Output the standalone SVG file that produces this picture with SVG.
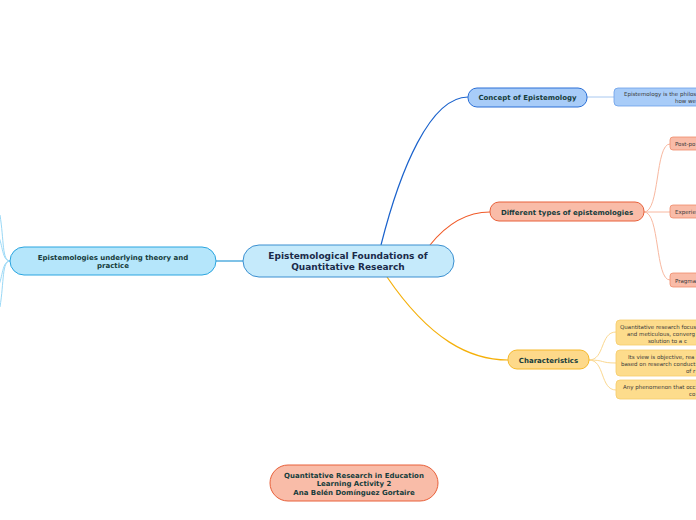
<svg xmlns="http://www.w3.org/2000/svg" width="696" height="520" viewBox="0 0 696 520">
<style>
text{font-family:"DejaVu Sans","Verdana",sans-serif;text-anchor:middle}
.b{font-weight:bold;fill:#163c3c}
.t1{font-size:7px}
.s{font-size:5.5px;fill:#3a3a3a}
.l{fill:none;stroke-width:1.2}
</style>
<rect width="696" height="520" fill="#ffffff"/>
<g id="connectors">
<path class="l" d="M381,245 C400,170 430,97 468,97" stroke="#1a62cc"/>
<path class="l" d="M430,245 C450,220 470,212 490,212" stroke="#f05a28"/>
<path class="l" d="M387,277 C430,340 470,360 508,360" stroke="#f5b00a"/>
<path class="l" d="M243,261 L216,261" stroke="#2a9ad8"/>
<path d="M587,97 L614,97" fill="none" stroke="#a8c8f0" stroke-width="1"/>
<g fill="none" stroke="#f8b8a0" stroke-width="1">
<path d="M644,212 C660,212 655,144 670,144"/>
<path d="M644,212 L670,212"/>
<path d="M644,212 C660,212 655,280 670,280"/>
</g>
<g fill="none" stroke="#fbd890" stroke-width="1">
<path d="M589,360 C605,360 600,332 616,332"/>
<path d="M589,360 C605,360 600,363 616,363"/>
<path d="M589,360 C605,360 600,390 616,390"/>
</g>
<g fill="none" stroke="#9ad8f6" stroke-width="1">
<path d="M10,261 C2,261 4,240 0,215"/>
<path d="M10,261 C2,261 3,245 -2,235"/>
<path d="M10,261 C2,261 4,282 0,307"/>
<path d="M10,261 C2,261 3,277 -2,287"/>
</g>
</g>
<g id="central">
<rect x="243" y="245" width="211" height="32" rx="16" fill="#c5eafb" stroke="#3a8fd0" stroke-width="1"/>
<text class="b" x="348" y="259" font-size="9" fill="#1a2a4a" style="fill:#1a2a4a">Epistemological Foundations of</text>
<text class="b" x="348" y="270" font-size="9" style="fill:#1a2a4a">Quantitative Research</text>
</g>
<g id="concept">
<rect x="468" y="88" width="119" height="19" rx="9" fill="#a8ccf8" stroke="#2a6fd6"/>
<text class="b t1" x="527.5" y="100">Concept of Epistemology</text>
</g>
<g id="concept-def">
<rect x="614" y="88" width="100" height="18" rx="4" fill="#a8ccf8" stroke="#6a9ee8" stroke-width="0.8"/>
<text class="s" x="624" y="96" style="text-anchor:start">Epistemology is the philos</text>
<text class="s" x="675" y="103" style="text-anchor:start">how we</text>
</g>
<g id="types">
<rect x="490" y="202" width="154" height="19" rx="9" fill="#f9bca8" stroke="#e8603a"/>
<text class="b t1" x="567" y="214.5">Different types of epistemologies</text>
</g>
<g id="post">
<rect x="670" y="137" width="40" height="13" rx="3" fill="#f9bca8" stroke="#f08a6a" stroke-width="0.8"/>
<text class="s" x="675" y="146" style="text-anchor:start">Post-po</text>
</g>
<g id="exp">
<rect x="670" y="205" width="40" height="13" rx="3" fill="#f9bca8" stroke="#f08a6a" stroke-width="0.8"/>
<text class="s" x="675" y="214" style="text-anchor:start">Experie</text>
</g>
<g id="prag">
<rect x="670" y="273" width="40" height="14" rx="3" fill="#f9bca8" stroke="#f08a6a" stroke-width="0.8"/>
<text class="s" x="675" y="282.5" style="text-anchor:start">Pragma</text>
</g>
<g id="characteristics">
<rect x="508" y="350" width="81" height="19" rx="9" fill="#fdd98a" stroke="#f5b82a"/>
<text class="b t1" x="548.5" y="362.5">Characteristics</text>
</g>
<g id="char1">
<rect x="616" y="320" width="100" height="25" rx="4" fill="#fddc8c" stroke="#f5cc6a" stroke-width="0.8"/>
<text class="s" x="620" y="329" style="text-anchor:start">Quantitative research focus</text>
<text class="s" x="627" y="336" style="text-anchor:start">and meticulous, converg</text>
<text class="s" x="648" y="343" style="text-anchor:start">solution to a c</text>
</g>
<g id="char2">
<rect x="616" y="350" width="100" height="26" rx="4" fill="#fddc8c" stroke="#f5cc6a" stroke-width="0.8"/>
<text class="s" x="628" y="359" style="text-anchor:start">Its view is objective, rea</text>
<text class="s" x="621" y="366" style="text-anchor:start">based on research conduct</text>
<text class="s" x="686" y="373" style="text-anchor:start">of r</text>
</g>
<g id="char3">
<rect x="616" y="380" width="100" height="19" rx="4" fill="#fddc8c" stroke="#f5cc6a" stroke-width="0.8"/>
<text class="s" x="623" y="389" style="text-anchor:start">Any phenomenon that occ</text>
<text class="s" x="689" y="396" style="text-anchor:start">co</text>
</g>
<g id="underlying">
<rect x="10" y="247" width="206" height="28" rx="14" fill="#b5e6fb" stroke="#2aa5e0"/>
<text class="b t1" x="113" y="260">Epistemologies underlying theory and</text>
<text class="b t1" x="113" y="268">practice</text>
</g>
<g id="footer">
<rect x="270" y="465" width="168" height="36" rx="18" fill="#f9bca8" stroke="#e8603a"/>
<text class="b t1" x="354" y="478">Quantitative Research in Education</text>
<text class="b t1" x="354" y="486">Learning Activity 2</text>
<text class="b t1" x="354" y="495">Ana Belén Domínguez Gortaire</text>
</g>
</svg>
